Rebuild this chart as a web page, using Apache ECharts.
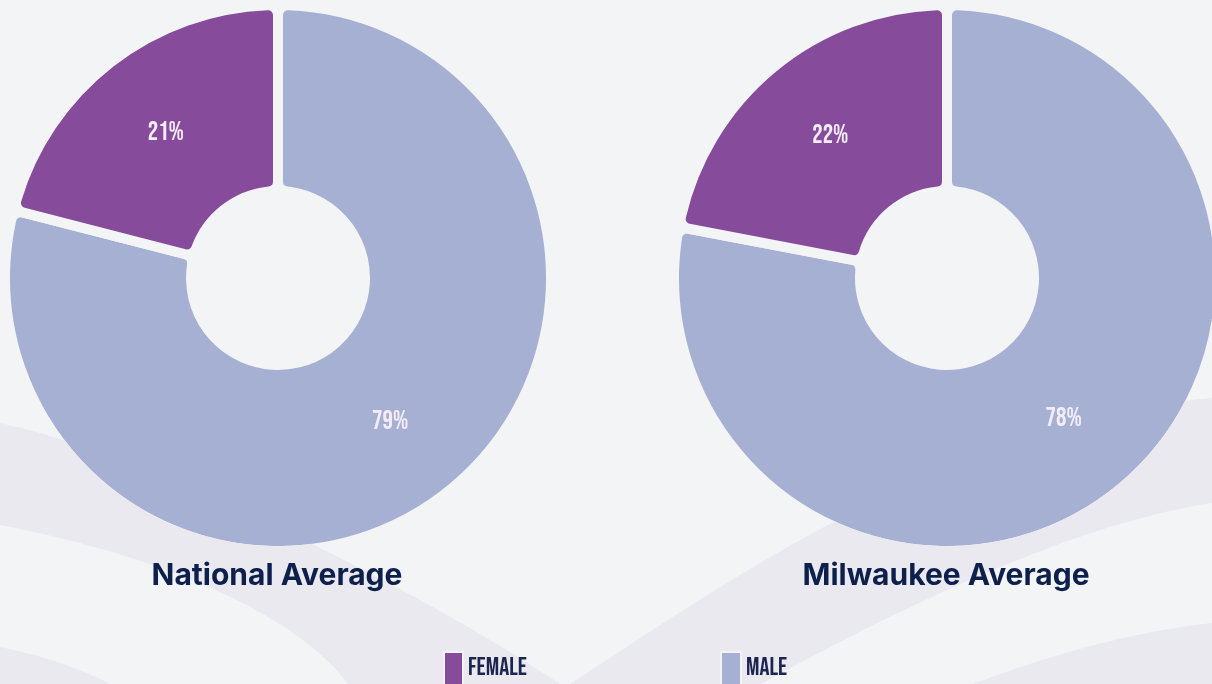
<!DOCTYPE html>
<html>
<head>
<meta charset="utf-8">
<script src="https://cdn.jsdelivr.net/npm/echarts@6/dist/echarts.min.js"></script>
<style>
html,body{margin:0;padding:0;background:#f3f4f6;}
#main{width:1212px;height:684px;}
</style>
</head>
<body>
<div id="main"></div>
<script>
// ---- data ----
const categories = ['MALE', 'FEMALE'];
const legendOrder = ['FEMALE', 'MALE'];
const nationalValues = [79, 21];
const milwaukeeValues = [78, 22];
const chartTitles = ['National Average', 'Milwaukee Average'];

const BG = '#f3f4f6';
const SWOOSH = '#ebe9f0';
const colors = { MALE: '#a5b0d3', FEMALE: '#874b9b' };
const CONDENSED = '"Bebas Neue", Oswald, "Roboto Condensed", sans-serif';

const CENTERS = [[278, 278], [947, 278]];
const R_OUT = 273, R_IN = 87, GAP = 10;
const R_VIS = R_OUT - GAP / 2;

// decorative background swooshes: sampled cubic outlines, kept off the donut discs
function cubic(p0, p1, p2, p3, n) {
  const pts = [];
  for (let i = 0; i <= n; i++) {
    const t = i / n, u = 1 - t;
    pts.push([
      u*u*u*p0[0] + 3*u*u*t*p1[0] + 3*u*t*t*p2[0] + t*t*t*p3[0],
      u*u*u*p0[1] + 3*u*u*t*p1[1] + 3*u*t*t*p2[1] + t*t*t*p3[1]
    ]);
  }
  return pts;
}
function outsideDiscs(pts) {
  return pts.map(p => {
    for (const c of CENTERS) {
      const dx = p[0] - c[0], dy = p[1] - c[1];
      const d = Math.sqrt(dx*dx + dy*dy);
      if (d < R_VIS) return [c[0] + dx / d * R_VIS, c[1] + dy / d * R_VIS];
    }
    return p;
  });
}
const swooshShapes = [
  cubic([0,423],[150,455],[420,590],[560,684], 300).concat(cubic([348,684],[300,620],[180,560],[0,525], 60)),
  cubic([0,647],[40,655],[80,668],[110,684], 30).concat([[0,684]]),
  cubic([570,684],[700,600],[950,420],[1212,398], 400).concat(cubic([1212,503],[1100,520],[950,580],[761,684], 60)),
  cubic([973,684],[1050,655],[1130,632],[1212,623], 40).concat([[1212,684]])
].map(outsideDiscs);

function buildData(values) {
  return categories.map((name, i) => ({
    name: name,
    value: values[i],
    itemStyle: { color: colors[name] }
  }));
}

function pieSeries(values, center) {
  return {
    type: 'pie',
    center: center,
    radius: [R_IN, R_OUT],
    startAngle: 90,
    clockwise: true,
    animation: false,
    emphasis: { disabled: true },
    itemStyle: { borderColor: BG, borderWidth: GAP, borderRadius: 10 },
    label: {
      show: true,
      position: 'inside',
      formatter: '{c}%',
      color: '#f4ecf7',
      fontFamily: CONDENSED,
      fontSize: 26
    },
    labelLine: { show: false },
    data: buildData(values)
  };
}

const legendText = {
  color: '#1b2550',
  fontFamily: CONDENSED,
  fontSize: 25
};

const graphics = swooshShapes.map(pts => ({
  type: 'polygon', silent: true, z: 100,
  shape: { points: pts },
  style: { fill: SWOOSH }
}));
graphics.push(
  { type: 'text', silent: true, x: 277, y: 576, z: 110,
    style: { text: chartTitles[0], align: 'center', verticalAlign: 'middle',
      fill: '#0d1f4b', font: 'bold 30px Inter, "Liberation Sans", sans-serif' } },
  { type: 'text', silent: true, x: 946, y: 576, z: 110,
    style: { text: chartTitles[1], align: 'center', verticalAlign: 'middle',
      fill: '#0d1f4b', font: 'bold 30px Inter, "Liberation Sans", sans-serif' } }
);

const option = {
  backgroundColor: BG,
  graphic: graphics,
  legend: [
    { data: [legendOrder[0]], left: 443, top: 651, padding: 0, icon: 'rect', z: 120,
      itemWidth: 19, itemHeight: 34, selectedMode: false, textStyle: legendText },
    { data: [legendOrder[1]], left: 720, top: 651, padding: 0, icon: 'rect', z: 120,
      itemWidth: 20, itemHeight: 34, selectedMode: false, textStyle: legendText }
  ],
  series: [
    pieSeries(nationalValues, CENTERS[0]),
    pieSeries(milwaukeeValues, CENTERS[1])
  ]
};

const chart = echarts.init(document.getElementById('main'), null, { renderer: 'canvas' });
chart.setOption(option);
</script>
</body>
</html>
